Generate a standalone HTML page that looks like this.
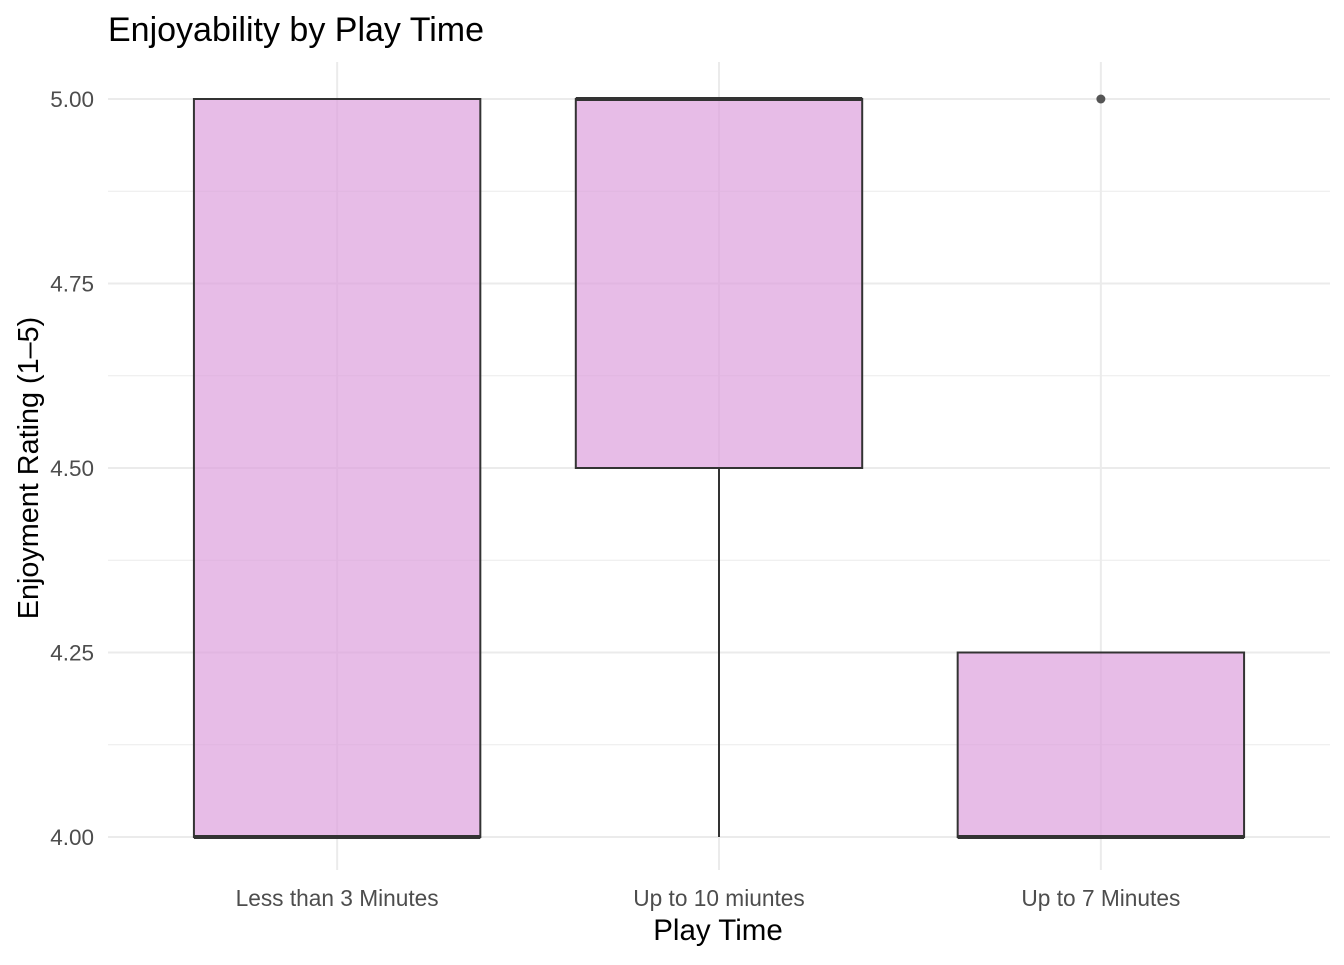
<!DOCTYPE html>
<html><head><meta charset="utf-8"><style>
body{margin:0;background:#fff;font-family:"Liberation Sans",Arial,sans-serif}
</style></head><body>
<svg id="chart" width="1344" height="960" xmlns="http://www.w3.org/2000/svg">
<text x="108" y="41" font-size="34" fill="#000">Enjoyability by Play Time</text>
<g id="grid"></g>
<g id="boxes"></g>
<g id="axes"></g>
<text x="718" y="940" font-size="29.5" text-anchor="middle" fill="#000">Play Time</text>
<text transform="translate(38,468) rotate(-90)" font-size="28.8" text-anchor="middle" fill="#000">Enjoyment Rating (1–5)</text>
</svg>
<script>
const categories=["Less than 3 Minutes","Up to 10 miuntes","Up to 7 Minutes"];
const lowerWhisker=[4,4,4];
const q1=[4,4.5,4];
const medians=[4,5,4];
const q3=[5,5,4.25];
const upperWhisker=[5,5,4.25];
const outlierCat=[2];
const outlierVal=[5];
const yTicks=[4,4.25,4.5,4.75,5];
const yTickLabels=["4.00","4.25","4.50","4.75","5.00"];
const ns="http://www.w3.org/2000/svg";
const L=108,R=1330;
const band=(R-L)/3.2;
const x=i=>L+(i+0.6)*band;
const y=v=>837-(v-4)*738;
function mk(tag,attrs,parent){const e=document.createElementNS(ns,tag);for(const k in attrs)e.setAttribute(k,attrs[k]);document.getElementById(parent).appendChild(e);return e;}
for(let i=0;i<yTicks.length-1;i++){
 const v=(yTicks[i]+yTicks[i+1])/2;
 const g=mk('line',{x1:L,x2:R,y1:y(v),y2:y(v),stroke:'#ebebeb','stroke-width':1},'grid');
 
 
}
yTicks.forEach((v,i)=>{
 const g=mk('line',{x1:L,x2:R,y1:y(v),y2:y(v),stroke:'#ebebeb','stroke-width':2},'grid');
 
 
 const t=mk('text',{x:94,y:y(v)+8,'font-size':22.5,'text-anchor':'end',fill:'#4d4d4d'},'axes');
 t.textContent=yTickLabels[i];
 
 
});
categories.forEach((c,i)=>{
 const g=mk('line',{x1:x(i),x2:x(i),y1:62,y2:870,stroke:'#ebebeb','stroke-width':2},'grid');
 
 
 const t=mk('text',{x:x(i),y:906,'font-size':22.7,'text-anchor':'middle',fill:'#4d4d4d'},'axes');
 t.textContent=c;
 
 
 const w=band*0.75,bx=x(i)-w/2;
 const wl=mk('line',{x1:x(i),x2:x(i),y1:y(q1[i]),y2:y(lowerWhisker[i]),stroke:'#333','stroke-width':2},'boxes');
 
 
 const wu=mk('line',{x1:x(i),x2:x(i),y1:y(q3[i]),y2:y(upperWhisker[i]),stroke:'#333','stroke-width':2},'boxes');
 
 
 const b=mk('rect',{x:bx,y:y(q3[i]),width:w,height:y(q1[i])-y(q3[i]),fill:'rgba(221,160,221,0.7)',stroke:'#333','stroke-width':2},'boxes');
 
 
 const m=mk('line',{x1:bx,x2:bx+w,y1:y(medians[i]),y2:y(medians[i]),stroke:'#333','stroke-width':4},'boxes');
 
 
});
outlierCat.forEach((c,i)=>{
 const o=mk('circle',{cx:x(c),cy:y(outlierVal[i]),r:4.5,fill:'#555'},'boxes');
 
 
});
</script>
</body></html>
